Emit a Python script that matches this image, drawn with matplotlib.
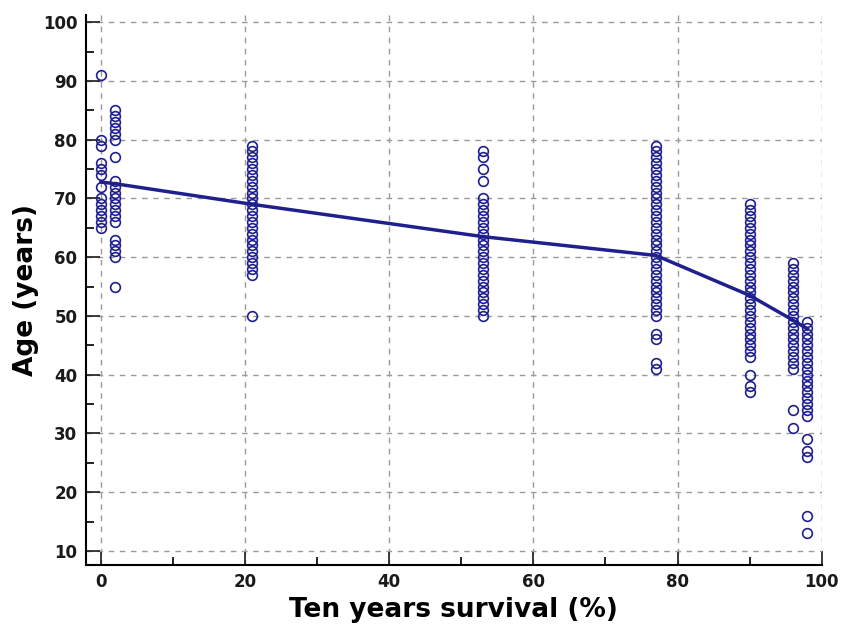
import numpy as np
import matplotlib.pyplot as plt
from matplotlib.ticker import MultipleLocator

plt.rcParams['font.family'] = ['DejaVu Sans']

# survival groups (%) and ages
surv_groups = [0, 2, 21, 53, 77, 90, 96, 98]
ages_0 = [91, 80, 79, 76, 75, 74, 72, 70, 69, 68, 67, 66, 65]
ages_2 = [85, 84, 83, 82, 81, 80, 77, 73, 72, 71, 70, 69, 68, 67, 66, 63, 62, 61, 60, 55]
ages_21 = [79, 78, 77, 76, 75, 74, 73, 72, 71, 70, 69, 68, 67, 66, 65, 64, 63, 62,
           61, 60, 59, 58, 57, 50]
ages_53 = [78, 77, 75, 73, 70, 69, 68, 67, 66, 65, 64, 63, 62, 61, 60, 59, 58, 57,
           56, 55, 54, 53, 52, 51, 50]
ages_77 = [79, 78, 77, 76, 75, 74, 73, 72, 71, 70, 69, 68, 67, 66, 65, 64, 63, 62,
           61, 60, 59, 58, 57, 56, 55, 54, 53, 52, 51, 50, 47, 46, 42, 41]
ages_90 = [69, 68, 67, 66, 65, 64, 63, 62, 61, 60, 59, 58, 57, 56, 55, 54, 53, 52,
           51, 50, 49, 48, 47, 46, 45, 44, 43, 40, 38, 37]
ages_96 = [59, 58, 57, 56, 55, 54, 53, 52, 51, 50, 49, 48, 47, 46, 45, 44, 43, 42,
           41, 34, 31]
ages_98 = [49, 48, 47, 46, 45, 44, 43, 42, 41, 40, 39, 38, 37, 36, 35, 34, 33, 29,
           27, 26, 16, 13]
all_ages = [ages_0, ages_2, ages_21, ages_53, ages_77, ages_90, ages_96, ages_98]

# fitted line (group means as drawn)
line_y = [72.8, 72.5, 69.0, 63.5, 60.3, 53.5, 49.3, 47.8]

navy = '#1f1f8f'

fig = plt.figure(figsize=(8.41, 6.30), dpi=100)
ax = fig.add_axes([0.102, 0.103, 0.875, 0.873])

for xg, ages in zip(surv_groups, all_ages):
    ax.plot([xg] * len(ages), ages, 'o', mfc='none', mec=navy, ms=7, mew=1.2)
ax.plot(surv_groups, line_y, color=navy, lw=2.5)

ax.set_xlim(-2.1, 100)
ax.set_ylim(7.6, 101.2)
ax.xaxis.set_major_locator(MultipleLocator(20))
ax.xaxis.set_minor_locator(MultipleLocator(10))
ax.yaxis.set_major_locator(MultipleLocator(10))
ax.yaxis.set_minor_locator(MultipleLocator(5))
ax.set_yticks(np.arange(10, 101, 10))
ax.tick_params(which='major', direction='in', length=10, width=1.2, pad=6,
               labelsize=12, colors='#1a1a1a')
ax.tick_params(which='minor', direction='in', length=6, width=1.2)
for lab in ax.get_xticklabels() + ax.get_yticklabels():
    lab.set_fontweight('bold')

ax.grid(True, which='major', linestyle=(0, (4, 4)), color='#9a9a9a', lw=1)
ax.spines['top'].set_visible(False)
ax.spines['right'].set_visible(False)
ax.spines['left'].set_linewidth(1.5)
ax.spines['bottom'].set_linewidth(1.5)

ax.set_xlabel('Ten years survival (%)', fontsize=19, fontweight='bold', labelpad=4)
ax.set_ylabel('Age (years)', fontsize=19, fontweight='bold', labelpad=3)

fig.savefig('out.png', dpi=100)
